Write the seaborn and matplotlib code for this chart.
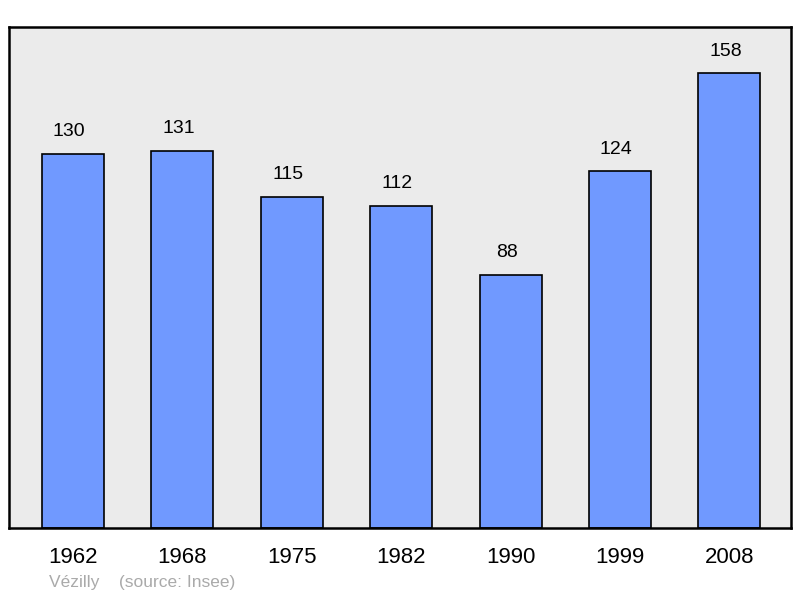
import pandas as pd
import matplotlib
matplotlib.use("Agg")
import matplotlib.pyplot as plt
import seaborn as sns

# Population data
years = ["1962", "1968", "1975", "1982", "1990", "1999", "2008"]
population = [130, 131, 115, 112, 88, 124, 158]

sns.set_style("white")
plt.rcParams['font.family'] = ['Liberation Sans', 'DejaVu Sans']

df = pd.DataFrame({"year": years, "pop": population})

fig = plt.figure(figsize=(8, 5.98), dpi=100)
ax = fig.add_axes([9 / 800, 1 - 528 / 598, 782 / 800, 501 / 598])
ax.set_facecolor("#ebebeb")

sns.barplot(data=df, x="year", y="pop", color="#7099ff", saturation=1,
            width=0.567, edgecolor="black", linewidth=1.2, ax=ax)

# value labels sit a bit left of bar centre, like the original
for i, v in enumerate(population):
    ax.text(i - 0.035, v + 7.6, str(v), ha="center", va="center", fontsize=14, color="black")

ax.set_xlim(-0.586, 6.563)
ax.set_ylim(0, 174)
ax.set_yticks([])
ax.set_xlabel("")
ax.set_ylabel("")
ax.tick_params(axis="x", length=0, pad=14, labelsize=16, labelcolor="black")
for s in ax.spines.values():
    s.set_visible(True)
    s.set_color("black")
    s.set_linewidth(1.8)

fig.text(49 / 800, 1 - 583 / 598, "Vézilly    (source: Insee)", color="#aaaaaa",
         fontsize=12.5, ha="left", va="center")

fig.savefig("out.png", dpi=100)
